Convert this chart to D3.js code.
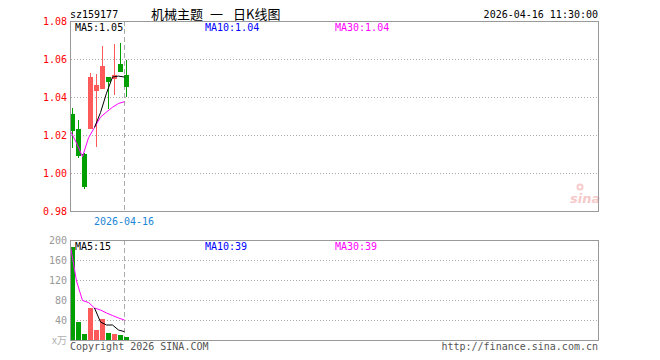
<!DOCTYPE html>
<html><head><meta charset="utf-8">
<script src="https://cdn.jsdelivr.net/npm/d3@7"></script>
<style>html,body{margin:0;padding:0;background:#fff}</style>
</head><body><div id="chart"></div>
<script>
// ---- data ----
const symbol = "sz159177";
const titleParts = ["机械主题", "一", "日K线图"];
const stampText = "2026-04-16 11:30:00";
const days = ["D1","D2","D3","D4","D5","D6","D7","D8","D9","2026-04-16"];
const dateLabel = "2026-04-16";
const openP  = [1.031, 1.023, 1.010, 1.0232, 1.0433, 1.044, 1.0504, 1.0496, 1.0575, 1.0516];
const closeP = [1.022, 1.009, 0.9925, 1.0505, 1.0462, 1.0563, 1.0477, 1.0517, 1.053, 1.0454];
const highP  = [1.034, 1.028, 1.0104, 1.0528, 1.0523, 1.0668, 1.0504, 1.0679, 1.0686, 1.0595];
const lowP   = [1.013, 1.008, 0.9917, 1.0232, 1.0138, 1.044, 1.0337, 1.041, 1.053, 1.0402];
const ma5P   = [null, null, null, null, 1.024, 1.0318, 1.042, 1.0505, 1.051, 1.0505];
const ma30P  = [1.022, 1.0158, 1.0086, 1.0185, 1.024, 1.0294, 1.0321, 1.0346, 1.0366, 1.0375];
const volume = [187, 36, 12.7, 64.7, 20, 41.3, 14.7, 12.7, 9.3, 6];
const ma5V   = [null, null, null, null, 64, 36, 30, 30, 20, 16.7];
const ma30V  = [187, 118, 79, 75, 64, 60, 54, 49, 44, 40];
const priceTicks = [0.98, 1.00, 1.02, 1.04, 1.06, 1.08];
const priceGrid = [1.00, 1.02, 1.04, 1.06];
const volTicks = [0, 40, 80, 120, 160, 200];
const volTickLabels = ["x万", "40", "80", "120", "160", "200"];
const volGrid = [40, 80, 120, 160];
const priceLegend = ["MA5:1.05", "MA10:1.04", "MA30:1.04"];
const volLegend = ["MA5:15", "MA10:39", "MA30:39"];
const legendColors = ["#000000", "#0000ff", "#ff00ff"];
const slots = 88;

// ---- layout ----
const W = 660, H = 360;
const L = 70, R = 598;
const pTop = 21, pBot = 211, vTop = 240, vBot = 340;
const mono = "'DejaVu Sans Mono', monospace";
const cjk = "'Noto Sans CJK SC', sans-serif";
const red = "#ff5a5a", green = "#009f00";

const svg = d3.select("#chart").append("svg").attr("width", W).attr("height", H)
  .style("display","block");

const x = d3.scaleLinear().domain([0, slots]).range([L, R]);
const yP = d3.scaleLinear().domain([0.98, 1.08]).range([pBot, pTop]);
const yV = d3.scaleLinear().domain([0, 200]).range([vBot, vTop]);
const cw = 5;

// header
svg.append("text").attr("x", 70).attr("y", 18).attr("font-family", mono).attr("font-size", 10)
  .attr("fill", "#000").text(symbol);
[151, 210, 233].forEach((tx, k) => {
  svg.append("text").attr("x", tx).attr("y", 19).attr("font-family", cjk)
    .attr("font-size", 13).attr("fill", "#000").text(titleParts[k]);
});
svg.append("text").attr("x", R).attr("y", 18).attr("text-anchor", "end").attr("font-family", mono)
  .attr("font-size", 10).attr("fill", "#000").text(stampText);

// watermark
const wm = svg.append("g").attr("opacity", 0.4);
wm.append("circle").attr("cx", 580).attr("cy", 187).attr("r", 3.5).attr("fill", "#f08080");
wm.append("circle").attr("cx", 580).attr("cy", 187).attr("r", 1.5).attr("fill", "#fff");
wm.append("text").attr("x", 570).attr("y", 203).attr("font-family", "'DejaVu Sans', sans-serif")
  .attr("font-size", 13).attr("font-style", "italic").attr("font-weight", "bold")
  .attr("fill", "#e87a7a").text("sina");

function panel(top, bot, gridVals, yScale) {
  const g = svg.append("g");
  g.selectAll("line.grid").data(gridVals).enter().append("line")
    .attr("x1", L + 1).attr("x2", R).attr("y1", d => Math.round(yScale(d)) + 0.5)
    .attr("y2", d => Math.round(yScale(d)) + 0.5)
    .attr("stroke", "#aaaaaa").attr("stroke-width", 1).attr("stroke-dasharray", "1,2");
  g.append("line").attr("x1", x(days.length - 1) + 0.5).attr("x2", x(days.length - 1) + 0.5)
    .attr("y1", top).attr("y2", bot).attr("stroke", "#aaaaaa").attr("stroke-dasharray", "5,3");
  return g;
}

// ---- price panel ----
panel(pTop, pBot, priceGrid, yP);
svg.selectAll("text.pt").data(priceTicks).enter().append("text")
  .attr("x", 67).attr("y", d => yP(d) + 4).attr("text-anchor", "end")
  .attr("font-family", mono).attr("font-size", 10).attr("fill", "#ff0000")
  .text(d => d3.format(".2f")(d));

const candles = svg.append("g").attr("shape-rendering", "crispEdges");
days.forEach((d, i) => {
  const up = closeP[i] >= openP[i];
  const col = up ? red : green;
  candles.append("rect").attr("x", x(i) + 2).attr("width", 1)
    .attr("y", yP(highP[i])).attr("height", Math.max(1, yP(lowP[i]) - yP(highP[i]))).attr("fill", col);
  const t = yP(Math.max(openP[i], closeP[i])), b = yP(Math.min(openP[i], closeP[i]));
  candles.append("rect").attr("x", x(i)).attr("width", cw)
    .attr("y", t).attr("height", Math.max(1, b - t)).attr("fill", col);
});

const lineP = d3.line().defined(d => d != null).x((d, i) => x(i) + 0.5).y(d => yP(d));
svg.append("path").attr("d", lineP(ma30P)).attr("fill", "none").attr("stroke", "#ff00ff").attr("stroke-width", 1);
svg.append("path").attr("d", lineP(ma5P)).attr("fill", "none").attr("stroke", "#000").attr("stroke-width", 1);

svg.append("rect").attr("x", L + 0.5).attr("y", pTop + 0.5).attr("width", R - L).attr("height", pBot - pTop)
  .attr("fill", "none").attr("stroke", "#999999");

[75, 205, 335].forEach((lx, k) => {
  svg.append("text").attr("x", lx).attr("y", 31).attr("font-family", mono).attr("font-size", 10)
    .attr("fill", legendColors[k]).text(priceLegend[k]);
});

svg.append("text").attr("x", x(days.length - 1)).attr("y", 225).attr("text-anchor", "middle")
  .attr("font-family", mono).attr("font-size", 10).attr("fill", "#1a86d8").text(dateLabel);

// ---- volume panel ----
panel(vTop, vBot, volGrid, yV);
svg.selectAll("text.vt").data(volTicks).enter().append("text")
  .attr("x", 67).attr("y", d => yV(d) + 4).attr("text-anchor", "end")
  .attr("font-family", (d, i) => i === 0 ? cjk : mono)
  .attr("font-size", 10).attr("fill", (d, i) => i === 0 ? "#b0b0b0" : "#999999")
  .text((d, i) => volTickLabels[i]);

const vb = svg.append("g").attr("shape-rendering", "crispEdges");
days.forEach((d, i) => {
  const up = closeP[i] >= openP[i];
  vb.append("rect").attr("x", x(i)).attr("width", cw)
    .attr("y", yV(volume[i])).attr("height", yV(0) - yV(volume[i]))
    .attr("fill", up ? red : green);
});
const lineV = d3.line().defined(d => d != null).x((d, i) => x(i) + 0.5).y(d => yV(d));
svg.append("path").attr("d", lineV(ma30V)).attr("fill", "none").attr("stroke", "#ff00ff");
svg.append("path").attr("d", lineV(ma5V)).attr("fill", "none").attr("stroke", "#000");

svg.append("rect").attr("x", L + 0.5).attr("y", vTop + 0.5).attr("width", R - L).attr("height", vBot - vTop)
  .attr("fill", "none").attr("stroke", "#999999");

[75, 205, 335].forEach((lx, k) => {
  svg.append("text").attr("x", lx).attr("y", 250).attr("font-family", mono).attr("font-size", 10)
    .attr("fill", legendColors[k]).text(volLegend[k]);
});

// footer
svg.append("text").attr("x", 70).attr("y", 350).attr("font-family", mono).attr("font-size", 10)
  .attr("fill", "#555").text("Copyright 2026 SINA.COM");
svg.append("text").attr("x", R).attr("y", 350).attr("text-anchor", "end").attr("font-family", mono)
  .attr("font-size", 10).attr("fill", "#555").text("http://finance.sina.com.cn");
</script>
</body></html>
